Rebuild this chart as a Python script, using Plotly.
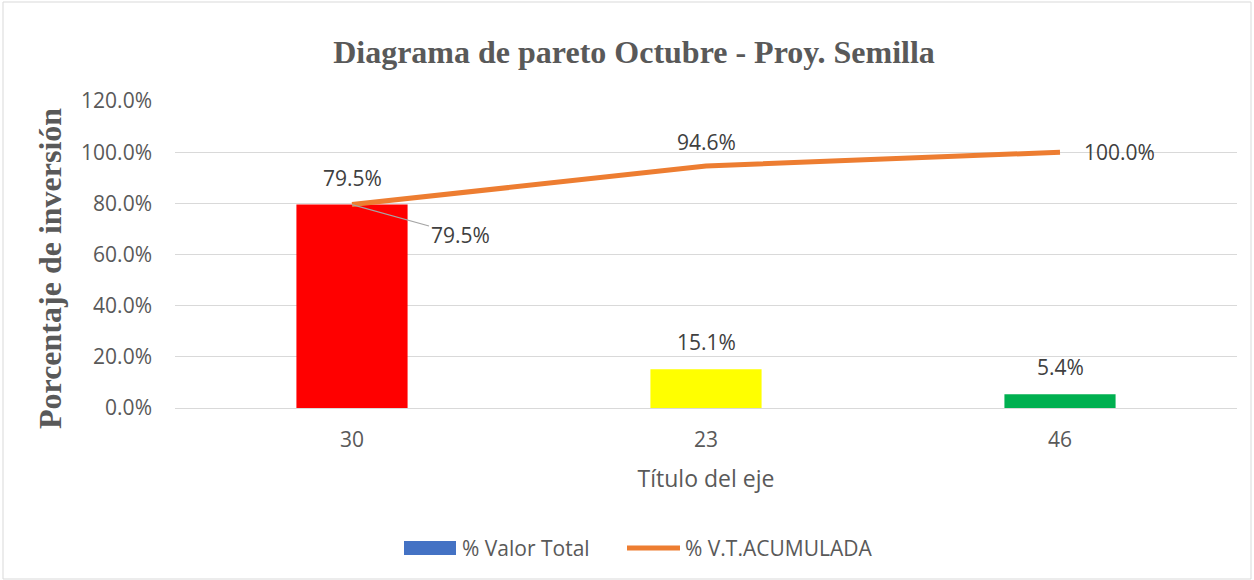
import plotly.graph_objects as go

categories = ["30", "23", "46"]
valor_total = [0.795, 0.151, 0.054]
acumulada = [0.795, 0.946, 1.0]
bar_colors = ["#FF0000", "#FFFF00", "#00B050"]
y_ticks = [0, 0.2, 0.4, 0.6, 0.8, 1.0, 1.2]
series_names = ["% Valor Total", "% V.T.ACUMULADA"]
legend_colors = ["#4472C4", "#ED7D31"]

W, H = 1254, 580
L, R, T, B = 175, 17, 101, 172
pw, ph = W - L - R, H - T - B

grey = "#595959"
label_col = "#404040"
sans = "Open Sans"
serif = "Liberation Serif"
fs = 21


def px(x):
    return (x - L) / pw


def py(y):
    return 1 - (y - T) / ph


fig = go.Figure()
fig.add_trace(go.Bar(x=categories, y=valor_total, marker=dict(color=bar_colors, line_width=0),
                     width=0.314, name=series_names[0], showlegend=False, hoverinfo="skip"))
fig.add_trace(go.Scatter(x=categories, y=acumulada, mode="lines", name=series_names[1],
                         line=dict(color=legend_colors[1], width=5), cliponaxis=False, showlegend=False))

lab_font = dict(family=sans, size=fs, color=label_col)
ann = []
for i, v in enumerate(valor_total):
    ann.append(dict(x=i, y=v, text=f"{v*100:.1f}%", showarrow=False, yanchor="bottom", yshift=11,
                    font=lab_font))
# line labels
ann.append(dict(x=0, y=acumulada[0], text=f"{acumulada[0]*100:.1f}%", showarrow=True,
                arrowhead=0, arrowwidth=1.2, arrowcolor="#A5A5A5", ax=108, ay=30, standoff=0,
                font=lab_font))
ann.append(dict(x=1, y=acumulada[1], text=f"{acumulada[1]*100:.1f}%", showarrow=False,
                yanchor="bottom", yshift=8, font=lab_font))
ann.append(dict(x=2, y=acumulada[2], text=f"{acumulada[2]*100:.1f}%", showarrow=False,
                xanchor="left", xshift=22, font=lab_font))

# y-axis title (placed like the original, slightly below the plot centre)
ann.append(dict(xref="paper", yref="paper", x=px(50), y=py(269), xanchor="center", yanchor="middle",
                text="<b>Porcentaje de inversión</b>", textangle=-90, showarrow=False,
                font=dict(family=serif, size=32, color=grey)))

# manual legend
leg_font = dict(family=sans, size=21, color=grey)
ann.append(dict(xref="paper", yref="paper", x=px(460), y=py(548), xanchor="left", yanchor="middle",
                text=series_names[0], showarrow=False, font=leg_font))
ann.append(dict(xref="paper", yref="paper", x=px(683), y=py(548), xanchor="left", yanchor="middle",
                text=series_names[1], showarrow=False, font=leg_font))

shapes = [
    dict(type="rect", xref="paper", yref="paper", x0=px(3), x1=px(W - 3), y0=py(H - 1), y1=py(2),
         line=dict(color="#D9D9D9", width=1), layer="below"),
    dict(type="rect", xref="paper", yref="paper", x0=px(404), x1=px(456), y0=py(555), y1=py(541),
         line_width=0, fillcolor=legend_colors[0]),
    dict(type="line", xref="paper", yref="paper", x0=px(627), x1=px(680), y0=py(548), y1=py(548),
         line=dict(color=legend_colors[1], width=5)),
]

fig.update_layout(
    width=W, height=H, margin=dict(l=L, r=R, t=T, b=B, autoexpand=False),
    paper_bgcolor="white", plot_bgcolor="white",
    showlegend=False,
    title=dict(text="<b>Diagrama de pareto Octubre - Proy. Semilla</b>", x=px(634), xref="paper",
               xanchor="center", y=1 - 52 / H, yanchor="middle",
               font=dict(family=serif, size=32, color=grey)),
    xaxis=dict(type="category", range=[-0.5, 2.5], showgrid=False, showline=True, linecolor="#D9D9D9",
               linewidth=1, ticks="", ticklabelstandoff=13, automargin=False,
               tickfont=dict(family=sans, size=fs, color=grey),
               title=dict(text="Título del eje", font=dict(family=sans, size=23, color=grey), standoff=18)),
    yaxis=dict(range=[0, 1.2], tickvals=y_ticks, tickformat=".1%", showgrid=True, gridcolor="#D9D9D9",
               gridwidth=1, zeroline=False, showline=False, ticks="", ticklabelstandoff=22, automargin=False,
               tickfont=dict(family=sans, size=fs, color=grey)),
    annotations=ann,
    shapes=shapes,
)

fig.write_html("out.html", config={"displayModeBar": False},
               post_script="document.body.style.margin='0';")
